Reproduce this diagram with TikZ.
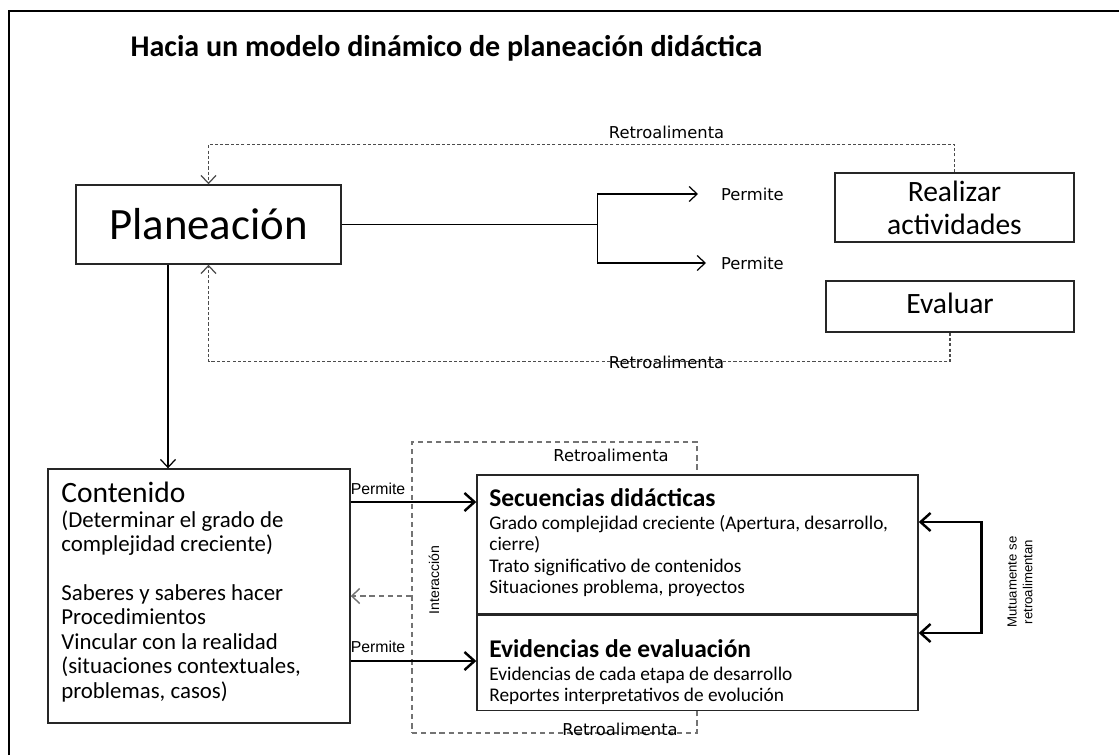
\documentclass[tikz,border=0pt]{standalone}
\usepackage{fontspec}
\setmainfont{Carlito}
\newfontfamily\verd{DejaVu Sans}
\newfontfamily\arial{Liberation Sans}
\usetikzlibrary{arrows.meta}

\begin{document}
\begin{tikzpicture}[>={Straight Barb[length=1.6mm,width=3mm]},
   caja/.style={draw=black!85, line width=0.8pt, fill=white, inner sep=0pt},
   retro/.style={draw=black!70, line width=0.7pt, dash pattern=on 1.8pt off 1.2pt},
   marco/.style={draw=black!55, line width=0.8pt, dash pattern=on 3pt off 2.2pt},
   etiq/.style={font=\verd\fontsize{9.3}{11}\selectfont, inner sep=1pt},
   chica/.style={font=\arial\fontsize{7.5}{9}\selectfont, inner sep=1pt},
   flecha/.style={line width=0.7pt, ->},
   gruesa/.style={line width=1.4pt, -{Straight Barb[length=2mm,width=3.6mm]}}]
\useasboundingbox (0,0) rectangle (22.38,-15.1);
\draw [line width=1.1pt] (0.18,-15.1)--(0.18,-0.22)--(22.38,-0.22);

\node (titulo) at (8.93,-0.96) {\fontsize{17.1}{20}\selectfont\bfseries Hacia un modelo dinámico de planeación didáctica};

% parte de arriba
\node [caja, minimum width=5.30cm, minimum height=1.58cm] (plan) at (4.17,-4.49) {\fontsize{25.5}{30}\selectfont Planeación};
\node [caja, minimum width=4.78cm, minimum height=1.38cm, align=center, font=\fontsize{16.8}{18.8}\selectfont] (real) at (19.09,-4.15) {Realizar\\actividades};
\node [caja, minimum width=4.96cm, minimum height=1.02cm, text depth=0.12cm] (eval) at (19.0,-6.13) {\fontsize{16.8}{18.8}\selectfont Evaluar};

\coordinate (rama) at (11.95,-4.49);
\node [etiq, anchor=west] (perm1) at (14.38,-3.88) {Permite};
\node [etiq, anchor=west] (perm2) at (14.38,-5.26) {Permite};
\draw [line width=0.7pt] (plan.east) -- (rama);
\draw [flecha, shorten >=0.42cm] (rama) |- (perm1.west);
\draw [flecha, shorten >=0.26cm] (rama) |- (perm2.west);

\draw [retro, ->] (real.north) -- ++(0,0.56) -| (plan.north);
\node [etiq] (retro1) at (13.33,-2.64) {Retroalimenta};
\draw [retro, ->] (eval.south) -- ++(0,-0.58) -| (plan.south);
\node [etiq] (retro2) at (13.33,-7.24) {Retroalimenta};

% parte de abajo
\node [marco, minimum width=5.70cm, minimum height=5.82cm] (inter) at (11.09,-11.75) {};
\node [etiq] (retro3) at (12.22,-9.10) {Retroalimenta};
\node [etiq] (retro4) at (12.40,-14.58) {Retroalimenta};
\node [chica, rotate=90, font=\arial\fontsize{8}{9}\selectfont] (interac) at (8.68,-11.60) {Interacción};

\node [caja, minimum width=6.04cm, minimum height=5.08cm] (cont) at (3.98,-11.92) {};
\node [anchor=north west, align=left, inner sep=0pt, font=\fontsize{13}{13.9}\selectfont] (conttxt) at (1.22,-9.64)
  {{\fontsize{16.8}{18}\selectfont Contenido}\\
   (Determinar el grado  de\\
   complejidad creciente)\\[13.9pt]
   Saberes y saberes hacer\\
   Procedimientos\\
   Vincular con la realidad\\
   (situaciones contextuales,\\
   problemas, casos)};

\coordinate (baja) at (3.36,0);
\draw [flecha] (plan.south -| baja) -- (cont.north -| baja);

\node [caja, minimum width=8.82cm, minimum height=2.78cm] (sec) at (13.95,-10.89) {};
\node [caja, minimum width=8.82cm, minimum height=1.90cm, anchor=north] (evid) at (sec.south) {};
\node [anchor=north west, align=left, inner sep=0pt, font=\fontsize{11}{12.2}\selectfont] (sectxt) at (9.78,-9.76)
  {{\fontsize{14.5}{16}\selectfont\bfseries Secuencias didácticas}\\[1pt]
   Grado complejidad creciente (Apertura, desarrollo,\\
   cierre)\\
   Trato significativo de contenidos\\
   Situaciones problema, proyectos};
\node [anchor=north west, align=left, inner sep=0pt, font=\fontsize{11}{12.2}\selectfont] (evidtxt) at (9.78,-12.78)
  {{\fontsize{14.5}{16}\selectfont\bfseries Evidencias de evaluación}\\[1pt]
   Evidencias de cada etapa de desarrollo\\
   Reportes interpretativos de evolución};

\coordinate (f1) at (0,-10.04);
\coordinate (f2) at (0,-13.22);
\node [chica, font=\arial\fontsize{9}{11}\selectfont] (perm3) at (7.56,-9.78) {Permite};
\node [chica, font=\arial\fontsize{9}{11}\selectfont] (perm4) at (7.56,-12.94) {Permite};
\draw [gruesa] (cont.east |- f1) -- (sec.west |- f1);
\draw [gruesa] (cont.east |- f2) -- (evid.west |- f2);
\draw [marco, ->] (inter.west |- cont.east) -- (cont.east);

\coordinate (m1) at (0,-10.44);
\coordinate (m2) at (0,-12.66);
\draw [gruesa, {Straight Barb[length=2mm,width=3.6mm]}-{Straight Barb[length=2mm,width=3.6mm]}] (sec.east |- m1) -- ++(1.26,0) |- (evid.east |- m2);
\node [chica, rotate=90, align=center] (mutuo) at (20.40,-11.64) {Mutuamente se\\retroalimentan};

\end{tikzpicture}
\end{document}
